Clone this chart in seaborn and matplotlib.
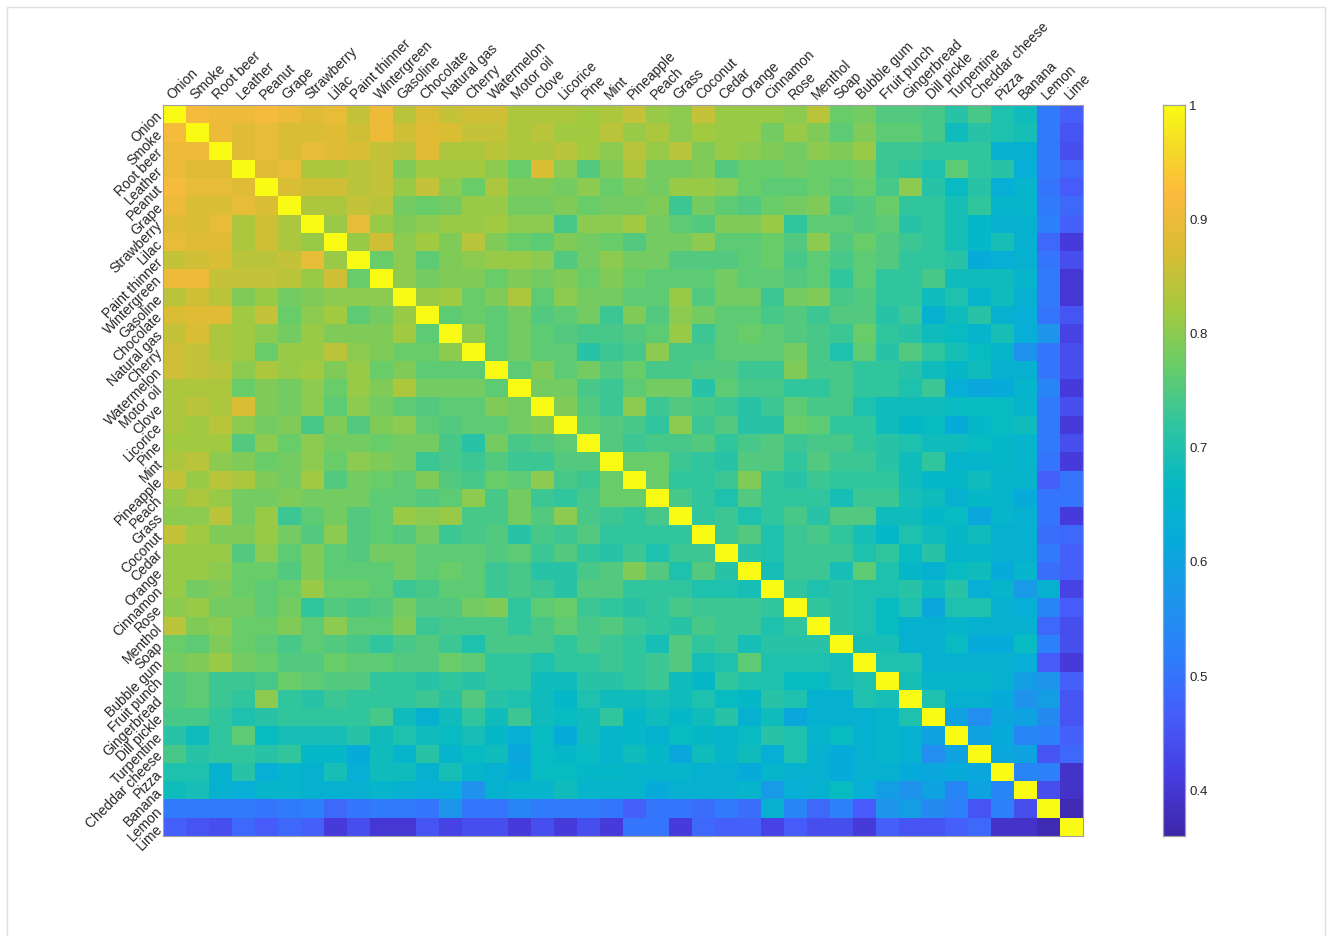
import numpy as np
import pandas as pd
import matplotlib
matplotlib.use("Agg")
import matplotlib.pyplot as plt
from matplotlib.colors import LinearSegmentedColormap
from matplotlib.patches import Rectangle
import seaborn as sns

flavors = ["Onion", "Smoke", "Root beer", "Leather", "Peanut", "Grape", "Strawberry", "Lilac",
           "Paint thinner", "Wintergreen", "Gasoline", "Chocolate", "Natural gas", "Cherry",
           "Watermelon", "Motor oil", "Clove", "Licorice", "Pine", "Mint", "Pineapple", "Peach",
           "Grass", "Coconut", "Cedar", "Orange", "Cinnamon", "Rose", "Menthol", "Soap",
           "Bubble gum", "Fruit punch", "Gingerbread", "Dill pickle", "Turpentine",
           "Cheddar cheese", "Pizza", "Banana", "Lemon", "Lime"]

# upper-triangle correlations: row i holds columns i+1 .. 39
upper_rows = [
    [0.91,0.90,0.90,0.91,0.90,0.88,0.89,0.85,0.90, 0.84,0.87,0.85,0.86,0.86,0.83,0.83,0.83,0.82,0.83, 0.85,0.81,0.80,0.85,0.81,0.81,0.81,0.80,0.84,0.77, 0.78,0.75,0.75,0.74,0.71,0.74,0.70,0.68,0.51,0.47],
    [0.90,0.88,0.89,0.87,0.87,0.88,0.86,0.90, 0.86,0.88,0.87,0.85,0.85,0.83,0.84,0.82,0.82,0.84, 0.81,0.83,0.80,0.82,0.81,0.81,0.78,0.81,0.79,0.76, 0.79,0.76,0.76,0.74,0.68,0.71,0.70,0.69,0.51,0.45],
    [0.88,0.89,0.87,0.89,0.88,0.87,0.85, 0.84,0.88,0.83,0.83,0.84,0.83,0.83,0.84,0.82,0.80, 0.84,0.81,0.84,0.79,0.81,0.80,0.79,0.78,0.80,0.79, 0.81,0.73,0.73,0.72,0.72,0.72,0.64,0.64,0.51,0.44],
    [0.88,0.89,0.83,0.83,0.84,0.85, 0.79,0.82,0.82,0.82,0.80,0.77,0.87,0.80,0.75,0.79, 0.83,0.78,0.78,0.79,0.75,0.77,0.77,0.78,0.77,0.77, 0.78,0.73,0.72,0.70,0.76,0.72,0.71,0.63,0.51,0.48],
    [0.87,0.86,0.86,0.84,0.85, 0.81,0.85,0.80,0.77,0.83,0.79,0.79,0.78,0.80,0.77, 0.79,0.78,0.81,0.81,0.80,0.77,0.76,0.76,0.77,0.76, 0.77,0.74,0.80,0.71,0.67,0.71,0.63,0.65,0.50,0.46],
    [0.83,0.83,0.85,0.84, 0.78,0.77,0.78,0.81,0.81,0.78,0.78,0.79,0.77,0.78, 0.78,0.79,0.73,0.78,0.76,0.75,0.77,0.78,0.79,0.74, 0.75,0.77,0.72,0.72,0.69,0.72,0.65,0.65,0.51,0.48],
    [0.81,0.89,0.81, 0.79,0.80,0.81,0.81,0.82,0.80,0.80,0.74,0.80,0.80, 0.82,0.78,0.76,0.75,0.79,0.79,0.81,0.72,0.76,0.76, 0.75,0.76,0.71,0.72,0.69,0.66,0.64,0.64,0.52,0.47],
    [0.81,0.86, 0.80,0.82,0.79,0.84,0.79,0.77,0.76,0.79,0.78,0.77, 0.75,0.78,0.78,0.80,0.76,0.76,0.77,0.75,0.80,0.75, 0.77,0.75,0.73,0.72,0.69,0.66,0.69,0.64,0.48,0.41],
    [0.77, 0.80,0.76,0.79,0.80,0.81,0.81,0.80,0.75,0.78,0.80, 0.78,0.78,0.75,0.75,0.75,0.76,0.77,0.74,0.76,0.74, 0.76,0.75,0.72,0.72,0.71,0.62,0.63,0.64,0.50,0.44],
    [0.80,0.78,0.79,0.79,0.77,0.79,0.78,0.79,0.77,0.79, 0.77,0.76,0.76,0.76,0.78,0.76,0.76,0.75,0.76,0.72, 0.76,0.72,0.72,0.74,0.68,0.68,0.68,0.65,0.51,0.40],
    [0.81,0.82,0.77,0.79,0.83,0.76,0.80,0.78,0.78, 0.76,0.76,0.81,0.75,0.78,0.78,0.73,0.78,0.79,0.74, 0.75,0.72,0.72,0.68,0.70,0.65,0.68,0.64,0.51,0.40],
    [0.76,0.77,0.76,0.78,0.75,0.76,0.78,0.73, 0.79,0.75,0.80,0.78,0.76,0.76,0.74,0.75,0.73,0.75, 0.75,0.71,0.73,0.64,0.68,0.71,0.64,0.63,0.50,0.45],
    [0.80,0.76,0.78,0.76,0.75,0.74,0.74, 0.75,0.76,0.81,0.73,0.76,0.77,0.76,0.75,0.74,0.73, 0.77,0.72,0.71,0.68,0.67,0.65,0.69,0.63,0.57,0.42],
    [0.76,0.78,0.76,0.76,0.71,0.73, 0.74,0.80,0.74,0.74,0.76,0.76,0.76,0.78,0.74,0.70, 0.76,0.71,0.75,0.72,0.69,0.67,0.65,0.56,0.50,0.44],
    [0.76,0.79,0.76,0.78,0.75, 0.77,0.74,0.74,0.75,0.75,0.73,0.73,0.79,0.74,0.74, 0.72,0.72,0.71,0.68,0.66,0.68,0.64,0.64,0.50,0.44],
    [0.78,0.78,0.74,0.73, 0.76,0.78,0.78,0.71,0.76,0.74,0.74,0.72,0.72,0.74, 0.72,0.72,0.70,0.73,0.63,0.61,0.62,0.65,0.53,0.41],
    [0.79,0.75,0.73, 0.80,0.73,0.75,0.74,0.73,0.71,0.73,0.76,0.74,0.74, 0.70,0.68,0.68,0.68,0.67,0.67,0.67,0.65,0.51,0.44],
    [0.76,0.75, 0.74,0.72,0.80,0.73,0.75,0.71,0.71,0.77,0.76,0.72, 0.72,0.68,0.66,0.67,0.62,0.66,0.67,0.68,0.51,0.41],
    [0.75, 0.73,0.74,0.74,0.75,0.72,0.74,0.75,0.73,0.74,0.74, 0.72,0.71,0.70,0.68,0.68,0.67,0.66,0.65,0.51,0.44],
    [0.77,0.77,0.73,0.72,0.71,0.75,0.75,0.72,0.75,0.73, 0.73,0.71,0.68,0.72,0.65,0.65,0.66,0.65,0.50,0.41],
    [0.77,0.72,0.72,0.73,0.79,0.72,0.71,0.73,0.72, 0.72,0.72,0.68,0.66,0.66,0.68,0.65,0.65,0.47,0.50],
    [0.74,0.72,0.70,0.75,0.72,0.72,0.72,0.69, 0.73,0.73,0.69,0.68,0.64,0.66,0.65,0.62,0.50,0.50],
    [0.72,0.73,0.70,0.72,0.74,0.71,0.75, 0.75,0.68,0.68,0.66,0.67,0.61,0.65,0.64,0.50,0.41],
    [0.73,0.75,0.70,0.73,0.74,0.72, 0.69,0.66,0.70,0.68,0.66,0.68,0.64,0.64,0.49,0.48],
    [0.71,0.70,0.73,0.73,0.73, 0.70,0.72,0.67,0.71,0.65,0.65,0.64,0.64,0.51,0.47],
    [0.69,0.73,0.73,0.69, 0.76,0.70,0.66,0.64,0.67,0.68,0.62,0.65,0.49,0.47],
    [0.72,0.70,0.71, 0.70,0.70,0.71,0.68,0.71,0.63,0.65,0.58,0.64,0.42],
    [0.72,0.71, 0.70,0.67,0.70,0.61,0.70,0.70,0.64,0.63,0.53,0.46],
    [0.71, 0.70,0.67,0.64,0.64,0.65,0.64,0.64,0.64,0.48,0.44],
    [0.69,0.69,0.64,0.64,0.67,0.62,0.62,0.67,0.52,0.44],
    [0.70,0.70,0.64,0.64,0.64,0.64,0.63,0.46,0.41],
    [0.69,0.65,0.65,0.65,0.64,0.59,0.57,0.47],
    [0.70,0.64,0.64,0.62,0.56,0.59,0.45],
    [0.60,0.55,0.61,0.60,0.54,0.45],
    [0.60,0.62,0.53,0.52,0.47],
    [0.61,0.60,0.45,0.48],
    [0.53,0.52,0.39],
    [0.44,0.39],
    [0.37],
]

color_min, color_max = 0.36, 1.0
cbar_ticks = [0.4, 0.5, 0.6, 0.7, 0.8, 0.9, 1.0]

# assemble symmetric matrix
n = len(flavors)
mat = np.eye(n)
for i, row in enumerate(upper_rows):
    for k, v in enumerate(row):
        j = i + 1 + k
        mat[i, j] = v
        mat[j, i] = v
df = pd.DataFrame(mat, index=flavors, columns=flavors)

# parula-like colormap
parula_pts = [
    (0.00, (0.242, 0.150, 0.660)),
    (0.08, (0.276, 0.235, 0.872)),
    (0.16, (0.275, 0.360, 0.980)),
    (0.24, (0.180, 0.490, 0.985)),
    (0.32, (0.115, 0.580, 0.920)),
    (0.40, (0.030, 0.665, 0.860)),
    (0.48, (0.020, 0.725, 0.770)),
    (0.56, (0.180, 0.770, 0.630)),
    (0.64, (0.400, 0.800, 0.420)),
    (0.72, (0.640, 0.790, 0.250)),
    (0.80, (0.850, 0.740, 0.200)),
    (0.88, (0.990, 0.730, 0.240)),
    (0.94, (0.960, 0.850, 0.160)),
    (1.00, (0.977, 0.984, 0.081)),
]
parula = LinearSegmentedColormap.from_list("parula", parula_pts, N=256)

sns.set_style("white")
plt.rcParams["font.family"] = ["Liberation Sans", "DejaVu Sans"]

W, H = 1332, 936
fig = plt.figure(figsize=(W / 100, H / 100), dpi=100)
fig.patch.set_facecolor("white")

ax = fig.add_axes([163 / W, 1 - 836 / H, 920 / W, 731 / H])
cax = fig.add_axes([1163 / W, 1 - 836 / H, 22 / W, 731 / H])

sns.heatmap(df, ax=ax, cmap=parula, vmin=color_min, vmax=color_max, cbar_ax=cax,
            xticklabels=flavors, yticklabels=flavors, square=False)

txt = "#262626"
ax.xaxis.tick_top()
ax.tick_params(axis="both", direction="in", length=4, width=0.8, color="#404040",
               top=True, bottom=True, left=True, right=True,
               labeltop=True, labelbottom=False, labelleft=True, labelright=False,
               labelsize=10, labelcolor=txt, pad=2)
for lab in ax.get_xticklabels():
    lab.set_rotation(45)
    lab.set_ha("left")
    lab.set_va("bottom")
    lab.set_rotation_mode("anchor")
for lab in ax.get_yticklabels():
    lab.set_rotation(45)
    lab.set_ha("right")
    lab.set_va("center")
    lab.set_rotation_mode("anchor")
for s in ax.spines.values():
    s.set_visible(True)
    s.set_color("#a0a0a0")
    s.set_linewidth(0.8)

cax.set_yticks(cbar_ticks)
cax.set_yticklabels(["%g" % t for t in cbar_ticks])
cax.tick_params(axis="y", direction="in", length=4, width=0.8, color="#404040",
                labelsize=9.5, labelcolor=txt, right=True, left=True, pad=3)
for s in cax.spines.values():
    s.set_visible(True)
    s.set_color("#a0a0a0")
    s.set_linewidth(0.8)

fig.patches.append(Rectangle((7 / W, -0.01), 1318 / W, (H - 7) / H + 0.01,
                             transform=fig.transFigure, fill=False,
                             edgecolor="#e0e0e0", linewidth=1))

fig.savefig("out.png", dpi=100)
